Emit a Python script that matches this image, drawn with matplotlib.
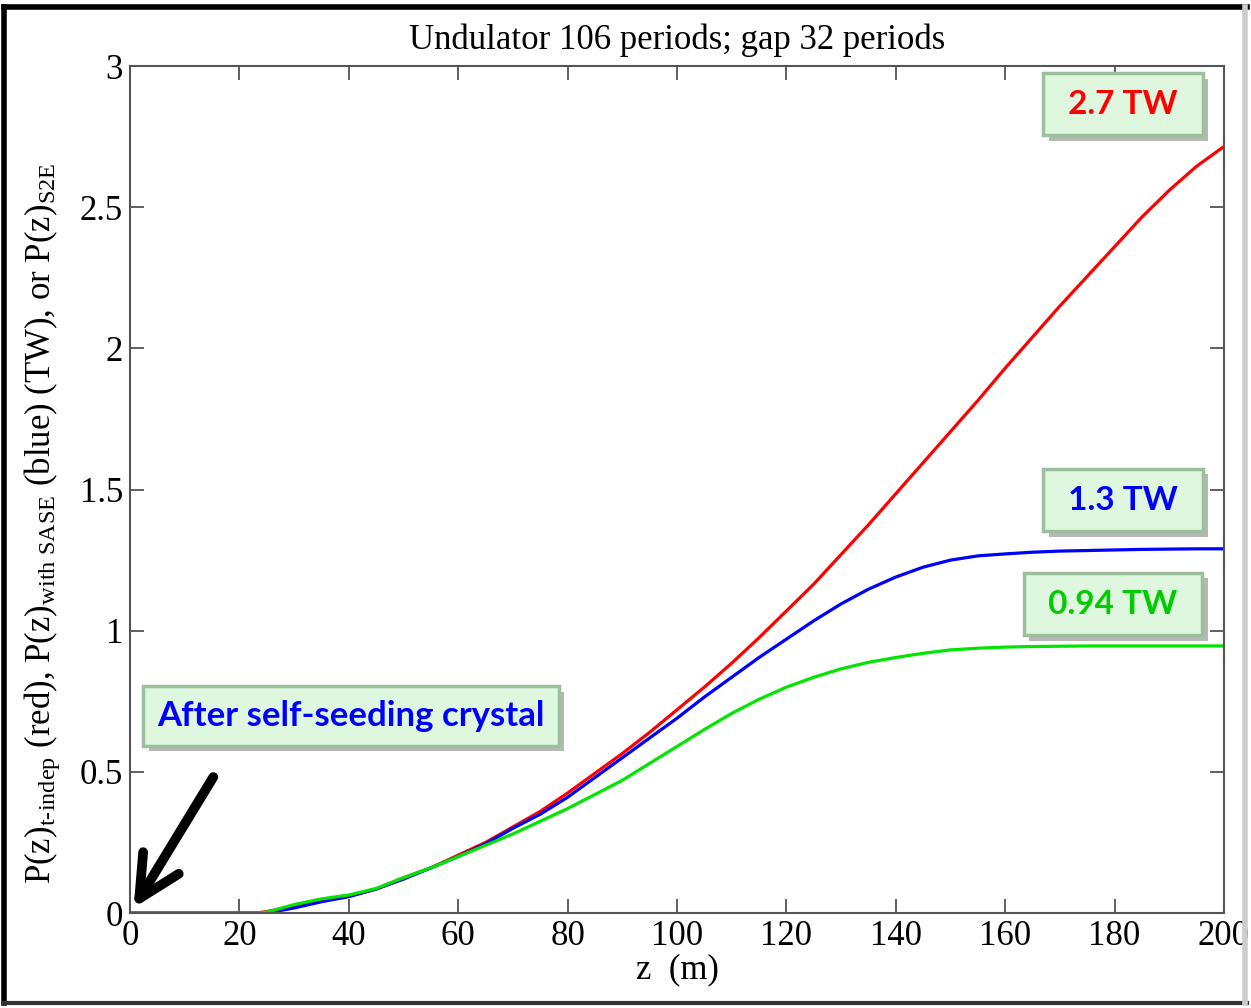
import matplotlib
matplotlib.use('Agg')
import matplotlib.pyplot as plt
import matplotlib.patheffects as pe
from matplotlib.lines import Line2D

plt.rcParams['font.family'] = ['Liberation Serif', 'DejaVu Serif']
plt.rcParams['mathtext.fontset'] = 'custom'
plt.rcParams['mathtext.rm'] = 'Liberation Serif'
plt.rcParams['mathtext.it'] = 'Liberation Serif:italic'

# z (m) and power (TW)
z = [0, 5, 10, 15, 20, 23, 25, 30, 35, 40, 45, 50, 55, 60, 65, 70, 75, 80, 85, 90,
     95, 100, 105, 110, 115, 120, 125, 130, 135, 140, 145, 150, 155, 160, 165,
     170, 175, 180, 185, 190, 195, 200]
p_red = [0, 0, 0, 0, 0, 0, 0.005, 0.025, 0.045, 0.06, 0.085, 0.125, 0.16, 0.205,
         0.25, 0.305, 0.36, 0.425, 0.495, 0.565, 0.64, 0.72, 0.8, 0.885, 0.975,
         1.07, 1.165, 1.27, 1.375, 1.485, 1.595, 1.705, 1.815, 1.93, 2.04, 2.15,
         2.255, 2.36, 2.465, 2.56, 2.645, 2.715]
p_blue = [0, 0, 0, 0, 0, 0, 0, 0.018, 0.04, 0.058, 0.085, 0.12, 0.16, 0.2, 0.245,
          0.3, 0.35, 0.41, 0.48, 0.55, 0.62, 0.69, 0.765, 0.835, 0.905, 0.97,
          1.035, 1.095, 1.147, 1.19, 1.225, 1.25, 1.265, 1.272, 1.278, 1.282, 1.284,
          1.286, 1.288, 1.289, 1.29, 1.29]
p_green = [0, 0, 0, 0, 0, 0, 0.003, 0.03, 0.05, 0.064, 0.087, 0.125, 0.16, 0.2,
           0.24, 0.28, 0.325, 0.37, 0.42, 0.47, 0.53, 0.59, 0.65, 0.707, 0.757, 0.8,
           0.835, 0.865, 0.888, 0.905, 0.92, 0.932, 0.938, 0.942, 0.944, 0.945,
           0.946, 0.946, 0.946, 0.946, 0.946, 0.946]

x_ticks = [0, 20, 40, 60, 80, 100, 120, 140, 160, 180, 200]
y_ticks = [0, 0.5, 1, 1.5, 2, 2.5, 3]
y_tick_labels = ['0', '0.5', '1', '1.5', '2', '2.5', '3']

fig = plt.figure(figsize=(12.51, 10.08), dpi=100)
ax = fig.add_axes([0.1039, 0.0942, 0.8745, 0.8403])

ax.plot(z, p_red, color='#ff0000', lw=2.3)
ax.plot(z, p_blue, color='#0000ff', lw=2.3)
ax.plot(z, p_green, color='#00e600', lw=2.3)

ax.set_xlim(0, 200)
ax.set_ylim(0, 3)
ax.set_xticks(x_ticks)
ax.set_yticks(y_ticks)
ax.set_yticklabels(y_tick_labels)
ax.tick_params(direction='in', length=10, width=1.2, color='#444444',
               top=True, right=True, labelsize=25, pad=5)
for s in ax.spines.values():
    s.set_color('#555555')
    s.set_linewidth(1.5)

ax.set_title('Undulator 106 periods; gap 32 periods', fontsize=25, pad=12)
ax.set_xlabel('z  (m)', fontsize=25, labelpad=0)
ax.set_ylabel(r'P(z)$_{\text{t-indep}}$ (red), P(z)$_{\text{with SASE}}$ (blue) (TW), or P(z)$_{\text{S2E}}$',
              fontsize=25)
ax.yaxis.set_label_coords(-0.062, 0.46)

shadow = [pe.withSimplePatchShadow(offset=(4, -4), shadow_rgbFace='#888888', alpha=0.6)]

def label_box(x, y, text, color, size=24, pad=0.5):
    t = ax.text(x, y, text, transform=ax.transAxes, ha='center', va='center',
                fontsize=size, fontweight='bold', color=color, family=['Lato', 'DejaVu Sans'],
                bbox=dict(boxstyle='square,pad=%s' % pad, facecolor='#dff7df',
                          edgecolor='#9dbf9d', linewidth=2.5))
    t.get_bbox_patch().set_path_effects(shadow)
    return t

label_box(0.9077, 0.955, ' 2.7 TW ', '#ff0000')
label_box(0.9077, 0.4876, ' 1.3 TW ', '#0000ff')
label_box(0.8985, 0.3648, ' 0.94 TW ', '#00cc00')
label_box(0.202, 0.2326, 'After self-seeding crystal', '#0000ff', size=25, pad=0.4)

ax.annotate('', xy=(0.4, 0.01), xytext=(15.5, 0.49),
            arrowprops=dict(arrowstyle='->,head_length=1.0,head_width=0.5',
                            color='black', lw=7, mutation_scale=30),
            annotation_clip=False)

# outer frame of the slide
fig.add_artist(Line2D([0.003, 0.003], [0.005, 0.993], color='black', lw=4, transform=fig.transFigure))
fig.add_artist(Line2D([0.003, 0.997], [0.993, 0.993], color='black', lw=4, transform=fig.transFigure))
fig.add_artist(Line2D([0.003, 0.997], [0.005, 0.005], color='#333333', lw=3, transform=fig.transFigure))
fig.add_artist(Line2D([0.995, 0.995], [0.005, 0.993], color='#cccccc', lw=4, transform=fig.transFigure))

fig.savefig('out.png', dpi=100)
